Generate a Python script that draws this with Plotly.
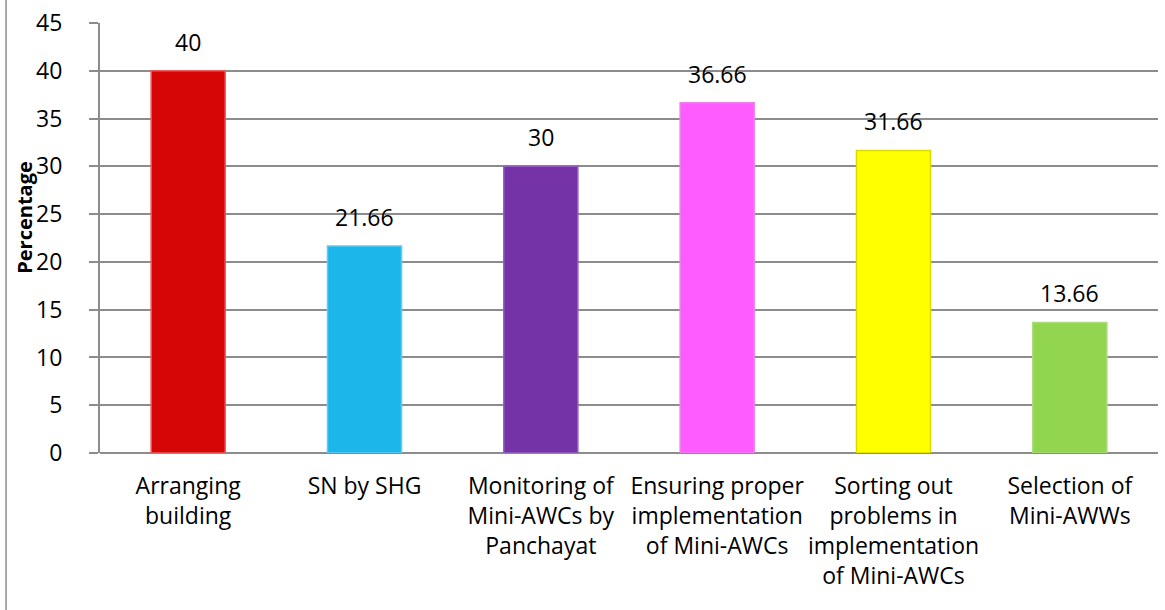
import plotly.graph_objects as go

categories = [
    "Arranging<br>building",
    "SN by SHG",
    "Monitoring of<br>Mini-AWCs by<br>Panchayat",
    "Ensuring proper<br>implementation<br>of Mini-AWCs",
    "Sorting out<br>problems in<br>implementation<br>of Mini-AWCs",
    "Selection of<br>Mini-AWWs",
]
values = [40, 21.66, 30, 36.66, 31.66, 13.66]
value_labels = ["40", "21.66", "30", "36.66", "31.66", "13.66"]
bar_colors = ["#D60606", "#1CB6EA", "#7434A8", "#FF5CFF", "#FFFF00", "#92D650"]
edge_colors = ["#EC5C5C", "#60CCF2", "#9460C0", "#EE80EE", "#DADA00", "#A8DC78"]

font = "'Open Sans', sans-serif"

fig = go.Figure(go.Bar(
    x=categories,
    y=values,
    width=0.42,
    marker=dict(color=bar_colors, line=dict(color=edge_colors, width=1.5)),
    hoverinfo="skip",
))

# value labels sit a bit higher above the bars than plotly's default
label_notes = [
    dict(x=c, y=v, text=t, xref="x", yref="y", yanchor="bottom",
         yshift=11, showarrow=False, font=dict(size=23, family=font))
    for c, v, t in zip(categories, values, value_labels)
]

fig.update_layout(
    width=1165,
    height=610,
    margin=dict(l=100, r=7, t=23, b=157),
    paper_bgcolor="white",
    plot_bgcolor="white",
    showlegend=False,
    font=dict(family=font, size=23, color="#000000"),
    xaxis=dict(
        showgrid=False,
        showline=False,
        ticks="",
        tickfont=dict(size=23),
        ticklabelstandoff=17,
    ),
    yaxis=dict(
        range=[0, 45],
        dtick=5,
        showgrid=True,
        gridcolor="#8C8C8C",
        gridwidth=1.5,
        zeroline=True,
        zerolinecolor="#8C8C8C",
        zerolinewidth=2,
        showline=True,
        linecolor="#8C8C8C",
        linewidth=2,
        ticks="outside",
        ticklen=9,
        tickcolor="#8C8C8C",
        tickwidth=1.5,
        tickfont=dict(size=23),
        ticklabelstandoff=22,
    ),
    annotations=label_notes + [dict(
        text="<b>Percentage</b>",
        xref="paper", yref="paper",
        x=-0.071, y=0.549,
        xanchor="center", yanchor="middle",
        textangle=-90,
        showarrow=False,
        font=dict(size=20, family=font),
    )],
    shapes=[dict(
        type="line", xref="paper", yref="paper",
        x0=-0.0888, x1=-0.0888, y0=-0.5, y1=1.2,
        line=dict(color="#8C8C8C", width=1.5),
    )],
)

fig.write_html(
    "out.html",
    config={"displayModeBar": False},
    post_script="document.body.style.margin = '0px';",
)
